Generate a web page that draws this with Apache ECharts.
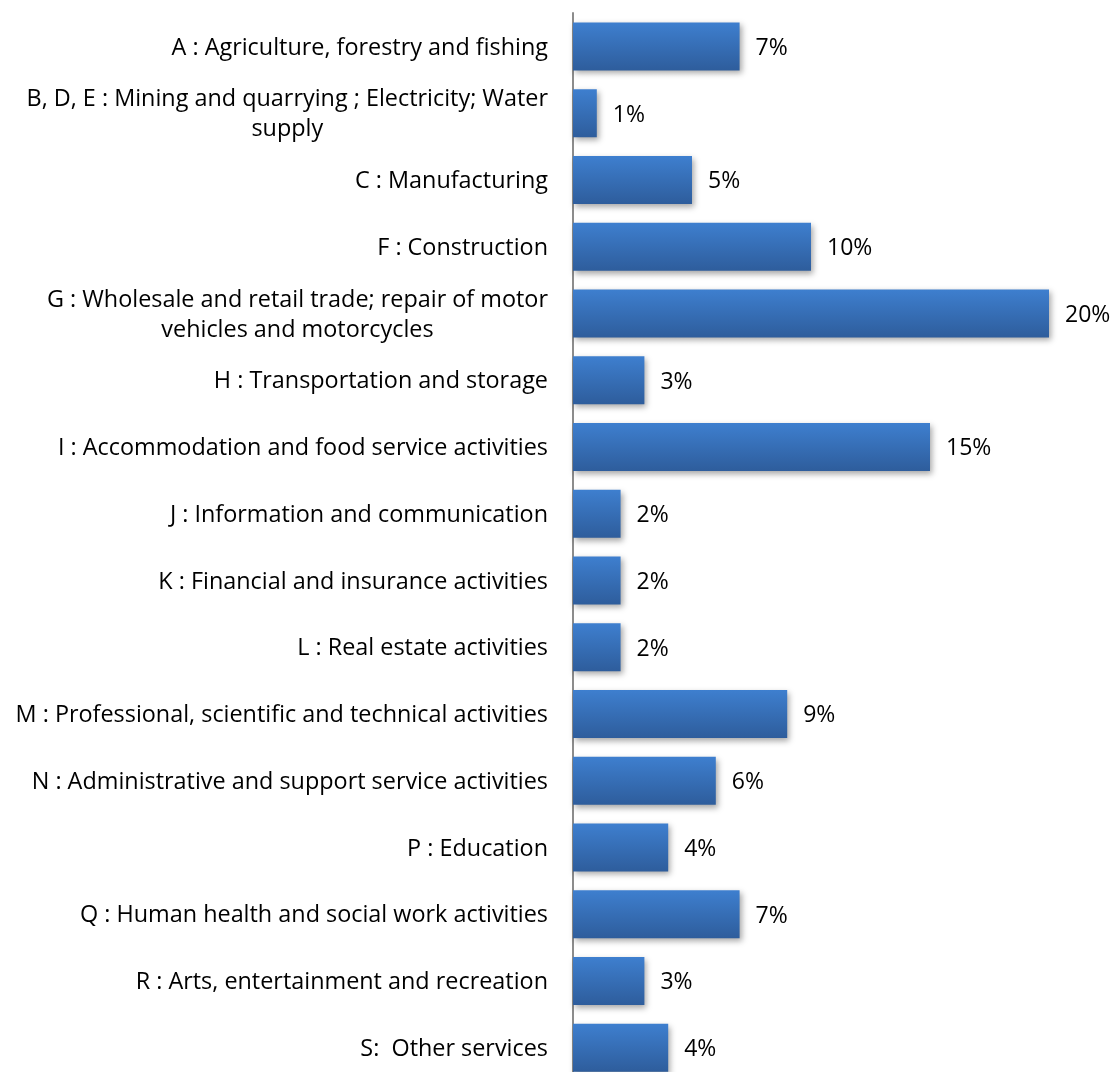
<!DOCTYPE html>
<html>
<head>
<meta charset="utf-8">
<script src="https://cdn.jsdelivr.net/npm/echarts@6/dist/echarts.min.js"></script>
<style>
  html, body { margin: 0; padding: 0; background: #ffffff; }
  #chart { width: 1114px; height: 1072px; }
</style>
</head>
<body>
<div id="chart"></div>
<script>
// Share of enterprises by economic activity (NACE sections), in percent
const categories = [
  'A : Agriculture, forestry and fishing',
  'B, D, E : Mining and quarrying ; Electricity; Water\nsupply',
  'C : Manufacturing',
  'F : Construction',
  'G : Wholesale and retail trade; repair of motor\nvehicles and motorcycles',
  'H : Transportation and storage',
  'I : Accommodation and food service activities',
  'J : Information and communication',
  'K : Financial and insurance activities',
  'L : Real estate activities',
  'M : Professional, scientific and technical activities',
  'N : Administrative and support service activities',
  'P : Education',
  'Q : Human health and social work activities',
  'R : Arts, entertainment and recreation',
  'S:  Other services'
];
const shares = [7, 1, 5, 10, 20, 3, 15, 2, 2, 2, 9, 6, 4, 7, 3, 4];

const FONT = '"Open Sans"';

const chart = echarts.init(document.getElementById('chart'), null, { renderer: 'canvas' });
chart.setOption({
  backgroundColor: '#ffffff',
  animation: false,
  grid: {
    left: 573, top: 13, width: 476, height: 1068,
    containLabel: false,
    outerBoundsMode: 'none'
  },
  xAxis: {
    type: 'value',
    min: 0,
    max: 20,
    show: false
  },
  yAxis: {
    type: 'category',
    inverse: true,
    data: categories,
    axisLine: { show: true, lineStyle: { color: '#8c8c8c', width: 2 } },
    axisTick: { show: false },
    axisLabel: {
      margin: 25,
      color: '#000000',
      fontFamily: FONT,
      fontSize: 23.4,
      align: 'right',
      formatter: v => '{c|' + v + '}',
      rich: { c: { align: 'center', fontFamily: FONT, fontSize: 23.4, lineHeight: 30, color: '#000000', padding: [3, 0, 0, 0] } }
    },
    splitLine: { show: false }
  },
  series: [{
    type: 'bar',
    data: shares,
    barWidth: 48,
    itemStyle: {
      color: new echarts.graphic.LinearGradient(0, 0, 0, 1, [
        { offset: 0, color: '#3e7fcf' },
        { offset: 1, color: '#2e5d9c' }
      ]),
      shadowColor: 'rgba(0,0,0,0.35)',
      shadowBlur: 6,
      shadowOffsetX: 2,
      shadowOffsetY: 3
    },
    label: {
      show: true,
      position: 'right',
      distance: 16,
      offset: [0, 2],
      formatter: p => p.value + '%',
      color: '#000000',
      fontFamily: FONT,
      fontSize: 23
    }
  }]
});
</script>
</body>
</html>
